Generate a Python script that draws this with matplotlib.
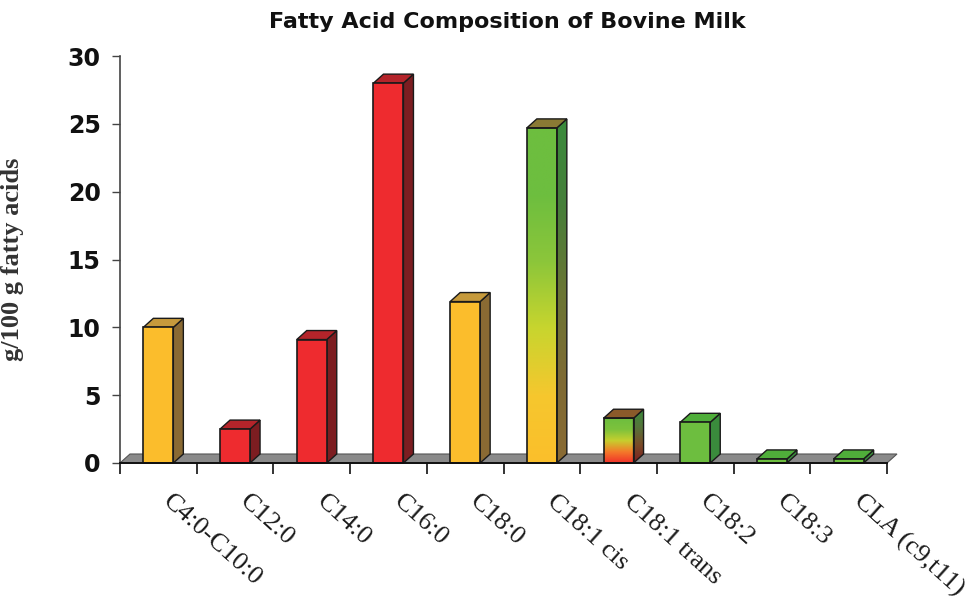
import matplotlib
matplotlib.use('Agg')
import matplotlib.pyplot as plt
import numpy as np
from matplotlib.patches import Polygon
from matplotlib.colors import LinearSegmentedColormap
from matplotlib.transforms import blended_transform_factory, offset_copy

categories = ['C4:0-C10:0', 'C12:0', 'C14:0', 'C16:0', 'C18:0',
              'C18:1 cis', 'C18:1 trans', 'C18:2', 'C18:3', 'CLA (c9,t11)']
values = [10.0, 2.5, 9.1, 28.0, 11.9, 24.7, 3.3, 3.0, 0.3, 0.3]
kinds = ['sat_short', 'sat', 'sat', 'sat', 'sat_short',
         'mono', 'trans', 'poly', 'poly', 'poly']
yticks = [0, 5, 10, 15, 20, 25, 30]

# front / side / top colours
solid = {
    'sat_short': ('#fbbd2c', '#8a6a33', '#c69a3c'),
    'sat': ('#ee2b2f', '#7c1d21', '#b4242a'),
    'poly': ('#6dbe3f', '#3a8b3c', '#4fae3a'),
}
grad = {
    'mono': (['#fbbf2b', '#f6c72e', '#c8d52e', '#8cc63a', '#6dbe3f', '#6dbe3f'],
             ['#8a6a33', '#7e6b33', '#6a7634', '#467f3a', '#3a8b3c'], '#8a7a34'),
    'trans': (['#f0302a', '#f47a2a', '#c6cf2e', '#7dc23c', '#6dbe3f'],
              ['#7c1d21', '#7a4a27', '#56743a', '#3a8b3c'], '#8a5a2a'),
}

fig = plt.figure(figsize=(9.74, 5.99), dpi=100)
ax = fig.add_axes([120 / 974, 136 / 599, 767 / 974, 407 / 599])
ax.set_xlim(0, 10)
ax.set_ylim(0, 30)

# 3d offsets in data units (about 10 px right, 9 px up)
ddx = 10 / 76.7
ddy = 9 / 13.57
bw = 30 / 76.7

# floor slab
floor = Polygon([[0, 0], [10, 0], [10 + ddx, ddy], [ddx, ddy]], closed=True,
                facecolor='#8a8a8a', edgecolor='#555555', lw=0.8, zorder=1, clip_on=False)
ax.add_patch(floor)


def grad_fill(poly, colors, x0, x1, y0, y1):
    cmap = LinearSegmentedColormap.from_list('g', colors)
    img = np.linspace(0, 1, 256).reshape(-1, 1)
    im = ax.imshow(img, cmap=cmap, origin='lower', aspect='auto',
                   extent=[x0, x1, y0, y1], zorder=2, interpolation='bilinear')
    im.set_clip_path(poly)


for i, (v, k) in enumerate(zip(values, kinds)):
    x0 = i + 0.5 - bw / 2
    x1 = x0 + bw
    front_pts = [[x0, 0], [x1, 0], [x1, v], [x0, v]]
    side_pts = [[x1, 0], [x1 + ddx, ddy], [x1 + ddx, v + ddy], [x1, v]]
    top_pts = [[x0, v], [x1, v], [x1 + ddx, v + ddy], [x0 + ddx, v + ddy]]
    if k in solid:
        fc, sc, tc = solid[k]
        ax.add_patch(Polygon(side_pts, facecolor=sc, edgecolor='#1a1a1a', lw=1.0, zorder=3, clip_on=False))
        ax.add_patch(Polygon(top_pts, facecolor=tc, edgecolor='#1a1a1a', lw=1.0, zorder=3, clip_on=False))
        ax.add_patch(Polygon(front_pts, facecolor=fc, edgecolor='#1a1a1a', lw=1.2, zorder=4, clip_on=False))
    else:
        fcols, scols, tc = grad[k]
        side = Polygon(side_pts, facecolor='none', edgecolor='none', transform=ax.transData)
        front = Polygon(front_pts, facecolor='none', edgecolor='none', transform=ax.transData)
        ax.add_patch(side)
        ax.add_patch(front)
        grad_fill(side, scols, x1, x1 + ddx, 0, v + ddy)
        grad_fill(front, fcols, x0, x1, 0, v)
        ax.add_patch(Polygon(side_pts, facecolor='none', edgecolor='#1a1a1a', lw=1.0, zorder=5, clip_on=False))
        ax.add_patch(Polygon(top_pts, facecolor=tc, edgecolor='#1a1a1a', lw=1.0, zorder=5, clip_on=False))
        ax.add_patch(Polygon(front_pts, facecolor='none', edgecolor='#1a1a1a', lw=1.2, zorder=5, clip_on=False))

# axes styling
for s in ['top', 'right']:
    ax.spines[s].set_visible(False)
ax.spines['left'].set_color('#444444')
ax.spines['left'].set_linewidth(1.2)
ax.spines['bottom'].set_color('#111111')
ax.spines['bottom'].set_linewidth(1.4)
ax.spines['bottom'].set_zorder(6)

ax.set_yticks(yticks)
ax.set_yticklabels([str(t) for t in yticks], fontsize=17, fontweight='bold', family='DejaVu Sans',
                   color='#111111')
ax.tick_params(axis='y', length=6, width=1.0, color='#444444', pad=8)
ax.set_xticks(np.arange(0, 11))
ax.set_xticklabels([])
ax.tick_params(axis='x', length=8, width=1.2, color='#111111', direction='out')

trans = blended_transform_factory(ax.transData, ax.transAxes)
for i, c in enumerate(categories):
    ax.text(i + 0.7, 0, c, transform=offset_copy(trans, fig=fig, x=0, y=-27, units='dots'),
            rotation=-42, rotation_mode='anchor', ha='left', va='top',
            fontsize=19, family='Liberation Serif', color='#1a1a1a')

ax.set_ylabel('g/100 g fatty acids', fontsize=19, family='Liberation Serif',
              fontweight='bold', color='#333333')
ax.yaxis.set_label_coords(-0.125, 0.5)

fig.text(507 / 974, 1 - 22 / 599, 'Fatty Acid Composition of Bovine Milk',
         ha='center', va='center', fontsize=16, fontweight='bold', family='DejaVu Sans',
         color='#111111')

fig.savefig('out.png', dpi=100, facecolor='white')
